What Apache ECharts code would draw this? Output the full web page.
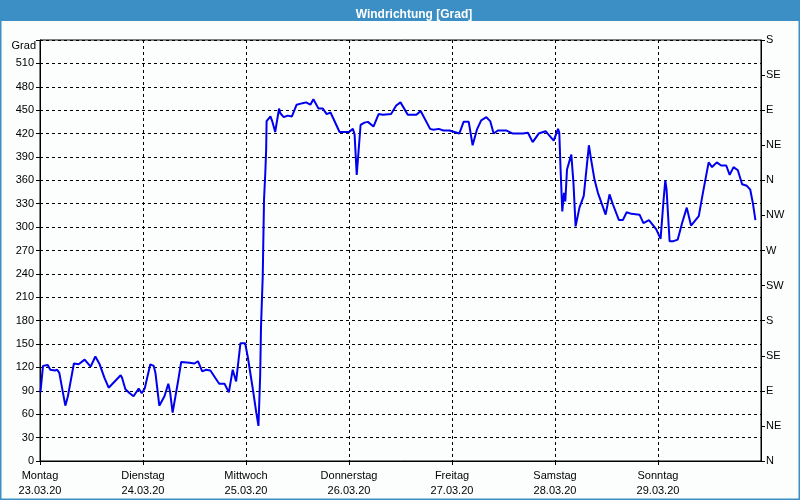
<!DOCTYPE html>
<html>
<head>
<meta charset="utf-8">
<script src="https://cdn.jsdelivr.net/npm/echarts@6/dist/echarts.min.js"></script>
<style>html,body{margin:0;padding:0;background:#fcfefd;}#c{width:800px;height:500px;}</style>
</head>
<body>
<div id="c"></div>
<script>
var titleText = 'Windrichtung [Grad]';
var dayNames = ['Montag','Dienstag','Mittwoch','Donnerstag','Freitag','Samstag','Sonntag'];
var dayDates = ['23.03.20','24.03.20','25.03.20','26.03.20','27.03.20','28.03.20','29.03.20'];
var compassLabels = ['N','NE','E','SE','S','SW','W','NW','N','NE','E','SE','S'];
// hours since Monday 23.03.20 00:00
var hours = [0.1,0.7,1.8,2.4,3.5,4.0,4.5,5.9,6.5,7.9,9.0,10.4,10.8,11.8,12.9,13.9,15.0,16.0,17.4,18.8,19.1,19.9,20.9,21.8,23.0,23.7,24.4,25.7,26.5,26.9,27.8,29.0,29.9,30.3,30.9,32.1,32.9,34.8,36.0,36.8,37.8,38.7,39.7,41.4,41.8,43.0,44.0,44.9,45.7,46.7,47.8,48.4,49.6,50.4,50.9,51.3,51.5,51.9,52.2,52.5,52.7,52.8,53.7,54.1,54.8,55.7,56.0,56.8,57.7,58.7,59.8,61.2,62.0,63.0,63.7,64.9,65.9,66.8,67.7,69.8,71.0,72.0,72.9,73.3,73.8,74.7,75.6,76.4,77.7,78.9,79.9,81.8,83.0,84.0,85.7,87.7,88.7,90.9,91.7,92.9,94.0,95.4,96.6,97.7,98.7,99.9,100.8,101.8,102.8,104.0,104.9,105.7,106.7,108.6,110.2,112.5,113.7,114.8,116.2,117.8,119.7,120.7,121.0,121.3,121.7,122.1,122.4,122.8,123.8,124.3,124.8,125.7,126.7,127.4,127.9,128.4,129.2,130.0,131.8,132.7,133.5,134.9,135.8,136.7,137.8,139.7,140.6,141.9,143.6,144.6,145.3,145.7,146.0,146.7,147.6,148.6,149.6,150.7,151.7,153.5,154.4,155.8,156.6,157.7,158.7,159.9,160.7,161.6,162.6,163.6,164.7,165.5,166.1,166.7];
var degrees = [88,122,123,117,116,117,113,71,83,125,124,130,130,121,134,124,107,94,102,110,107,92,87,83,93,87,93,124,122,113,71,83,99,89,62,100,127,126,125,128,115,117,116,102,99,99,88,117,102,151,151,134,92,62,45,109,173,237,335,370,400,436,442,436,422,452,446,441,443,442,457,459,460,457,464,452,452,445,447,422,422,422,426,419,367,431,434,435,429,445,444,445,456,460,444,444,449,426,425,426,424,424,422,420,435,435,405,425,437,441,436,420,424,424,420,420,421,409,420,423,411,426,421,374,320,344,333,374,393,357,301,325,340,378,405,387,361,344,316,342,329,309,309,319,317,316,305,309,297,285,335,360,348,282,282,284,305,325,302,314,342,383,377,383,379,379,367,377,373,355,353,348,331,309];
var seriesData = hours.map(function(h,i){return [h, degrees[i]];});

var FONT = 'Liberation Sans';
var FS = 11;
var chart = echarts.init(document.getElementById('c'), null, {renderer:'canvas'});
chart.setOption({
  animation: false,
  backgroundColor: '#fcfefd',
  title: {
    text: titleText, left: 409, top: 4, textAlign: 'center',
    textStyle: {color:'#ffffff', fontFamily: FONT, fontSize: 12, fontWeight: 'bold'}
  },
  graphic: [
    {type:'rect', z:-1, shape:{x:0,y:0,width:800,height:21}, style:{fill:'#3b8fc4'}, silent:true},
    {type:'rect', z:-1, shape:{x:0.75,y:0.75,width:798.5,height:498.5}, style:{fill:null, stroke:'#3b8fc4', lineWidth:1.5}, silent:true},
    {type:'text', x:36, y:46, style:{text:'Grad', fill:'#000', align:'right', verticalAlign:'middle', font:FS+'px "Liberation Sans"'}, silent:true}
  ],
  grid: {left:40, right:39, top:40, bottom:39, show:true, borderColor:'#000', borderWidth:1, backgroundColor:'transparent'},
  xAxis: {
    type:'value', min:0, max:168, interval:24,
    axisLine:{show:true, lineStyle:{color:'#000', width:1}},
    axisTick:{show:true, length:4, lineStyle:{color:'#000'}},
    splitLine:{show:true, lineStyle:{color:'#000', type:[3,3], width:1}},
    axisLabel:{
      margin:7, color:'#000', fontFamily:FONT, fontSize:FS, lineHeight:15, showMaxLabel:false,
      formatter:function(v){ var i=Math.round(v/24); return i<dayNames.length ? dayNames[i]+'\n'+dayDates[i] : ''; }
    }
  },
  yAxis: [
    {
      type:'value', min:0, max:540, interval:30, position:'left',
      axisLine:{show:true, lineStyle:{color:'#000'}},
      axisTick:{show:true, length:4, lineStyle:{color:'#000'}},
      splitLine:{show:true, lineStyle:{color:'#000', type:[3,3], width:1}},
      axisLabel:{margin:6, color:'#000', fontFamily:FONT, fontSize:FS,
        formatter:function(v){ return v>=540 ? '' : String(v); }}
    },
    {
      type:'value', min:0, max:540, interval:45, position:'right',
      axisLine:{show:true, lineStyle:{color:'#000'}},
      axisTick:{show:true, length:4, lineStyle:{color:'#000'}},
      splitLine:{show:false},
      axisLabel:{margin:5, color:'#000', fontFamily:FONT, fontSize:FS,
        formatter:function(v){ return compassLabels[Math.round(v/45)] || ''; }}
    }
  ],
  series: [{
    type:'line', data:seriesData, yAxisIndex:0, showSymbol:false, symbol:'none',
    lineStyle:{color:'#0000ee', width:2}, z:5
  }]
});
</script>
</body>
</html>
